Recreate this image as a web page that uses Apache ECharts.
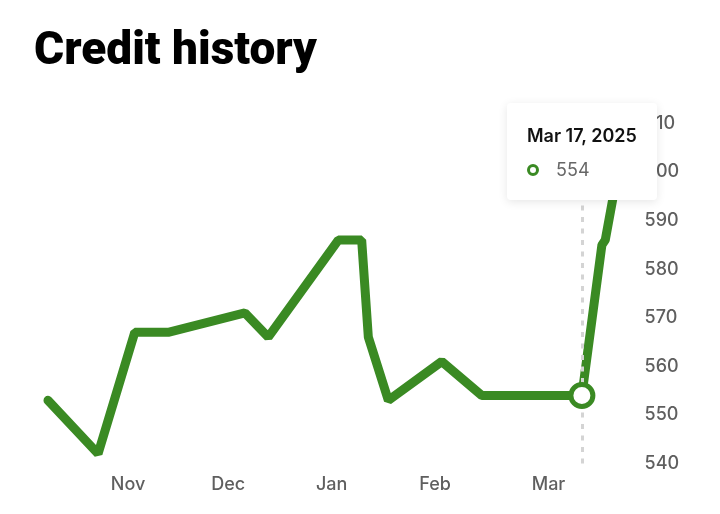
<!DOCTYPE html>
<html>
<head>
<meta charset="utf-8">
<script src="https://cdn.jsdelivr.net/npm/echarts@6/dist/echarts.min.js"></script>
<style>
html,body{margin:0;padding:0;background:#fff;}
#chart{width:720px;height:514px;}
</style>
</head>
<body>
<div id="chart"></div>
<script>
// ---- data ----
const titleText = 'Credit history';
const dates = ['2024-10-08','2024-10-23','2024-11-03','2024-11-13','2024-12-06','2024-12-13','2025-01-03','2025-01-10','2025-01-12','2025-01-18','2025-02-03','2025-02-15','2025-03-17','2025-03-23','2025-03-24','2025-03-28'];
const scores = [553, 542, 567, 567, 571, 566, 586, 586, 566, 553, 561, 554, 554, 585, 586, 601];
const tickDates = ['2024-11-01','2024-12-01','2025-01-01','2025-02-01','2025-03-07'];
const tickLabels = ['Nov','Dec','Jan','Feb','Mar'];
const highlightDate = '2025-03-17';
const highlightLabel = 'Mar 17, 2025';
const yMin = 540, yMax = 610, yStep = 10;

// ---- helpers ----
function toTime(s){ const p = s.split('-').map(Number); return Date.UTC(p[0], p[1]-1, p[2]); }
const GREEN = '#3a8a23';
const seriesData = dates.map((d,i)=>[toTime(d), scores[i]]);
const hiIdx = dates.indexOf(highlightDate);
const tickTimes = tickDates.map(toTime);

const chart = echarts.init(document.getElementById('chart'), null, {renderer:'canvas'});
chart.setOption({
  animation:false,
  backgroundColor:'#fff',
  title:{
    text:titleText, left:29, top:24,
    textStyle:{fontFamily:'Roboto', fontWeight:900, fontSize:46, color:'#000'}
  },
  grid:{left:48, right:101.4, top:123.5, bottom:50.5, containLabel:false},
  xAxis:{
    type:'value',
    min:toTime(dates[0]), max:toTime(dates[dates.length-1]),
    axisLine:{show:false}, axisTick:{show:false}, splitLine:{show:false},
    axisLabel:{
      customValues:tickTimes,
      formatter:function(v){ const i = tickTimes.indexOf(v); return i>=0 ? tickLabels[i] : ''; },
      color:'#5f5f5f', fontFamily:'Inter', fontWeight:500, fontSize:18, margin:12,
      hideOverlap:false
    },
    axisPointer:{
      type:'line', snap:true, label:{show:false},
      lineStyle:{color:'#d4d4d4', width:3, type:[5,6.5]}
    }
  },
  yAxis:{
    type:'value', position:'right', min:yMin, max:yMax, interval:yStep,
    axisLine:{show:false}, axisTick:{show:false}, splitLine:{show:false},
    axisLabel:{color:'#5f5f5f', fontFamily:'Inter', fontWeight:500, fontSize:18, margin:26}
  },
  tooltip:{
    trigger:'axis',
    alwaysShowContent:true,
    triggerOn:'none',
    position:[507,103],
    backgroundColor:'#fff',
    borderWidth:0,
    padding:0,
    extraCssText:'box-shadow:0 2px 10px rgba(0,0,0,0.10);border-radius:4px;width:150px;height:97px;box-sizing:border-box;padding:22px 0 0 20px;',
    formatter:function(params){
      const p = params[0];
      const v = p.value[1];
      return '<div style="font-family:Inter;font-weight:600;font-size:18px;line-height:22px;color:#111;">'+highlightLabel+'</div>'+
        '<div style="margin-top:12px;font-family:Inter;font-weight:400;font-size:18px;line-height:22px;color:#666;display:flex;align-items:center;">'+
        '<span style="display:inline-block;width:6px;height:6px;border:3.5px solid '+GREEN+';border-radius:50%;margin-left:0;margin-right:17px;"></span>'+v+'</div>';
    }
  },
  series:[
    {
      type:'line', data:seriesData, showSymbol:false, symbol:'none', z:2,
      lineStyle:{color:GREEN, width:9, cap:'round', join:'bevel'},
      emphasis:{disabled:true}
    },
    {
      type:'scatter', data:[seriesData[hiIdx]], z:100,
      symbol:'circle', symbolSize:22,
      itemStyle:{color:'#fff', borderColor:GREEN, borderWidth:5, opacity:1},
      emphasis:{disabled:true}, tooltip:{show:false}
    }
  ]
});
chart.dispatchAction({type:'showTip', seriesIndex:0, dataIndex:hiIdx});
</script>
</body>
</html>
